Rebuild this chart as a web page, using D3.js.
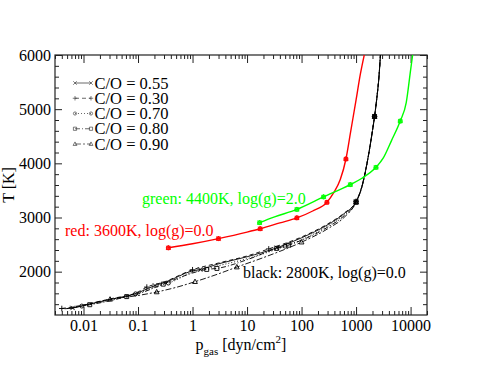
<!DOCTYPE html>
<html>
<head>
<meta charset="utf-8">
<script src="https://cdn.jsdelivr.net/npm/d3@7"></script>
<style>
body { margin: 0; background: #fff; }
svg, svg text { font-family: "Liberation Serif", "Times New Roman", "DejaVu Serif", serif !important; }
</style>
</head>
<body>
<div id="chart"></div>
<script>
// axis ticks
var xTickValues = [0.01, 0.1, 1, 10, 100, 1000, 10000];
var xTickLabels = ["0.01", "0.1", "1", "10", "100", "1000", "10000"];
var yTickValues = [2000, 3000, 4000, 5000, 6000];
var yTickLabels = ["2000", "3000", "4000", "5000", "6000"];
var yMinorValues = [1400, 1600, 1800, 2200, 2400, 2600, 2800, 3200, 3400, 3600, 3800,
                    4200, 4400, 4600, 4800, 5200, 5400, 5600, 5800];

// legend entries (C/O ratios)
var ratioLabels = ["C/O = 0.55", "C/O = 0.30", "C/O = 0.70", "C/O = 0.80", "C/O = 0.90"];

// black: 2800K, log(g)=0.0  -> [p_gas, T, symbol?]
var black055 = [[0.0045,1315],[0.0063,1330,1],[0.01,1375],[0.03,1485],[0.1,1610],[0.205,1745,1],
  [0.3,1795],[1.0,2015],[1.38,2040,1],[3,2145],[10,2275],[35,2440,1],[100,2625],[300,2865],
  [600,3070],[1000,3295,1],[1259,3550],[1585,4000],[1995,4600],[2183,4865,1],[2400,5200],[2630,5600],[2800,6000]];
var black030 = [[0.004,1320,1],[0.01,1385],[0.03,1495],[0.1,1625],[0.145,1715,1],[0.3,1810],
  [1.0,2035,1],[3,2160],[10,2290],[25,2420,1],[100,2640],[300,2880],[600,3080],[1000,3300,1],
  [1259,3550],[1585,4000],[1995,4600],[2183,4865,1],[2400,5200],[2630,5600],[2800,6000]];
var black070 = [[0.005,1320],[0.0093,1365,1],[0.03,1470],[0.09,1590,1],[0.3,1770],[0.36,1790,1],
  [1,1990],[3,2110],[10,2240],[50,2470,1],[100,2590],[300,2840],[600,3050],[1000,3290,1],
  [1259,3545],[1585,3995],[1995,4600],[2183,4865,1],[2400,5200],[2630,5600],[2800,6000]];
var black080 = [[0.005,1318],[0.013,1390,1],[0.03,1460],[0.062,1540,1],[0.1,1590],[0.29,1770,1],
  [1,1975],[1.82,2042,1],[2.8,2060,1],[10,2220],[35,2430,1],[58,2490,1],[100,2580],[300,2820],
  [600,3030],[1000,3285,1],[1259,3540],[1585,3990],[1995,4595],[2183,4865,1],[2400,5200],[2630,5600],[2800,6000]];
var black090 = [[0.006,1320],[0.0307,1490,1],[0.1,1560],[0.22,1625,1],[0.5,1710],[1.11,1815,1],
  [3,1960],[6.5,2085,1],[20,2260],[100,2545,1],[300,2790],[600,3000],[1000,3280,1],
  [1259,3535],[1585,3990],[1995,4595],[2183,4865,1],[2400,5200],[2630,5600],[2800,6000]];

// red: 3600K, log(g)=0.0
var red = [[0.36,2440,1],[1,2515],[2.99,2610,1],[10,2730],[17.4,2792,1],[40,2900],[82,2993,1],
  [160,3120],[292,3281,1],[386,3455],[513,3700],[652,4080,1],[794,4580],[1000,5170],[1200,5650],[1413,6000]];

// green: 4400K, log(g)=2.0
var green = [[17,2905,1],[32,3010],[82,3150,1],[253,3380,1],[782,3607,1],[1259,3720],[2317,3926,1],
  [3162,4100],[4467,4420],[6457,4780,1],[8318,5120],[10000,5720],[10900,6000]];

var blackSeries = [black055, black030, black070, black080, black090];
var symbols = ["cross", "plus", "circle", "square", "triangle"];
var dashes = [null, "4,3", "1,2", "5,2,1,2", "6,2,2,2"];

var W = 494, H = 382;
var margin = {top: 55, right: 67, bottom: 67, left: 55};
var width = W - margin.left - margin.right,
    height = H - margin.top - margin.bottom;

var svg = d3.select("#chart").append("svg")
    .attr("width", W).attr("height", H)
    .style("font-family", "'Liberation Serif', 'Times New Roman', serif")
  .append("g")
    .attr("transform", "translate(" + margin.left + "," + margin.top + ")");

var x = d3.scaleLog().domain([0.003, 20000]).range([0, width]);
var y = d3.scaleLinear().domain([1200, 6000]).range([height, 0]);

var xMinor = x.ticks().filter(function(d) { return xTickValues.indexOf(d) < 0; });

function styleAxis(g) {
  g.attr("font-family", null).attr("font-size", null);
  g.select(".domain").remove();
  g.selectAll("line").attr("stroke", "#222");
  g.selectAll("text").style("font-size", "16px").attr("fill", "#000");
}

// bottom
svg.append("g").attr("transform", "translate(0," + height + ")")
  .call(d3.axisBottom(x).tickValues(xTickValues).tickFormat(function(d, i) { return xTickLabels[i]; })
    .tickSize(-8).tickPadding(5)).call(styleAxis);
svg.append("g").attr("transform", "translate(0," + height + ")")
  .call(d3.axisBottom(x).tickValues(xMinor).tickFormat("").tickSize(-4)).call(styleAxis);
// top
svg.append("g")
  .call(d3.axisTop(x).tickValues(xTickValues).tickFormat("").tickSize(-8)).call(styleAxis);
svg.append("g")
  .call(d3.axisTop(x).tickValues(xMinor).tickFormat("").tickSize(-4)).call(styleAxis);
// left
svg.append("g")
  .call(d3.axisLeft(y).tickValues(yTickValues).tickFormat(function(d, i) { return yTickLabels[i]; })
    .tickSize(-7).tickPadding(4)).call(styleAxis);
svg.append("g")
  .call(d3.axisLeft(y).tickValues(yMinorValues).tickFormat("").tickSize(-4)).call(styleAxis);
// right
svg.append("g").attr("transform", "translate(" + width + ",0)")
  .call(d3.axisRight(y).tickValues(yTickValues).tickFormat("").tickSize(-7)).call(styleAxis);
svg.append("g").attr("transform", "translate(" + width + ",0)")
  .call(d3.axisRight(y).tickValues(yMinorValues).tickFormat("").tickSize(-4)).call(styleAxis);

svg.append("rect").attr("width", width).attr("height", height)
  .attr("fill", "none").attr("stroke", "#222").attr("stroke-width", 1.2);

// symbols
function drawSymbol(g, type, cx, cy, color, sw, s) {
  sw = sw || 0.9; s = s || 1;
  var p;
  if (type == "cross") p = "M" + (cx - 2.2 * s) + "," + (cy - 2.2 * s) + "L" + (cx + 2.2 * s) + "," + (cy + 2.2 * s) + "M" + (cx - 2.2 * s) + "," + (cy + 2.2 * s) + "L" + (cx + 2.2 * s) + "," + (cy - 2.2 * s);
  else if (type == "plus") p = "M" + (cx - 2.8 * s) + "," + cy + "L" + (cx + 2.8 * s) + "," + cy + "M" + cx + "," + (cy - 2.8 * s) + "L" + cx + "," + (cy + 2.8 * s);
  else if (type == "square") p = "M" + (cx - 2 * s) + "," + (cy - 2 * s) + "h" + (4 * s) + "v" + (4 * s) + "h" + (-4 * s) + "z";
  else if (type == "triangle") p = "M" + cx + "," + (cy - 2.6 * s) + "L" + (cx + 2.4 * s) + "," + (cy + 1.8 * s) + "L" + (cx - 2.4 * s) + "," + (cy + 1.8 * s) + "Z";
  if (type == "circle") {
    g.append("circle").attr("cx", cx).attr("cy", cy).attr("r", 2 * s)
      .attr("fill", "none").attr("stroke", color).attr("stroke-width", sw);
  } else {
    g.append("path").attr("d", p).attr("fill", "none").attr("stroke", color).attr("stroke-width", sw);
  }
}

var line = d3.line()
  .x(function(d) { return x(d[0]); })
  .y(function(d) { return y(d[1]); })
  .curve(d3.curveMonotoneX);

var plot = svg.append("g");

blackSeries.forEach(function(s, i) {
  plot.append("path").datum(s).attr("d", line)
    .attr("fill", "none").attr("stroke", "#000").attr("stroke-width", 0.9)
    .attr("stroke-dasharray", dashes[i]);
  s.filter(function(d) { return d[2]; }).forEach(function(d) {
    drawSymbol(plot, symbols[i], x(d[0]), y(d[1]), "#000");
  });
});

[[red, "#ff0000"], [green, "#00ff00"]].forEach(function(c) {
  plot.append("path").datum(c[0]).attr("d", line)
    .attr("fill", "none").attr("stroke", c[1]).attr("stroke-width", 1.4);
  c[0].filter(function(d) { return d[2]; }).forEach(function(d) {
    symbols.forEach(function(sym) { drawSymbol(plot, sym, x(d[0]), y(d[1]), c[1], 0.7, 0.9); });
  });
});

// legend
var legend = svg.append("g").attr("transform", "translate(20,28)");
ratioLabels.forEach(function(lab, i) {
  var yy = i * 15.25;
  legend.append("line").attr("x1", 0).attr("x2", 16).attr("y1", yy).attr("y2", yy)
    .attr("stroke", "#444").attr("stroke-width", 0.8).attr("stroke-dasharray", dashes[i]);
  drawSymbol(legend, symbols[i], 0, yy, "#444", 0.7, 0.8);
  drawSymbol(legend, symbols[i], 16, yy, "#444", 0.7, 0.8);
  legend.append("text").attr("x", 19.5).attr("y", yy + 5.5)
    .style("font-size", "16.5px").text(lab);
});

// annotations
svg.append("text").attr("x", 142 - margin.left).attr("y", 204 - margin.top)
  .attr("fill", "#00ff00").style("font-size", "16px").text("green: 4400K, log(g)=2.0");
svg.append("text").attr("x", 65 - margin.left).attr("y", 236 - margin.top)
  .attr("fill", "#ff0000").style("font-size", "16px").text("red: 3600K, log(g)=0.0");
svg.append("text").attr("x", 243 - margin.left).attr("y", 278 - margin.top)
  .attr("fill", "#000").style("font-size", "16px").text("black: 2800K, log(g)=0.0");

// axis titles
svg.append("text")
  .attr("transform", "translate(" + (-41) + "," + (height / 2) + ") rotate(-90)")
  .attr("text-anchor", "middle").style("font-size", "16px").text("T [K]");

var xt = svg.append("text").attr("x", width / 2).attr("y", height + 35)
  .attr("text-anchor", "middle").style("font-size", "16px");
xt.append("tspan").text("p");
xt.append("tspan").attr("dy", 5).style("font-size", "11px").text("gas");
xt.append("tspan").attr("dy", -5).text(" [dyn/cm");
xt.append("tspan").attr("dy", -7).style("font-size", "11px").text("2");
xt.append("tspan").attr("dy", 7).text("]");
</script>
</body>
</html>
